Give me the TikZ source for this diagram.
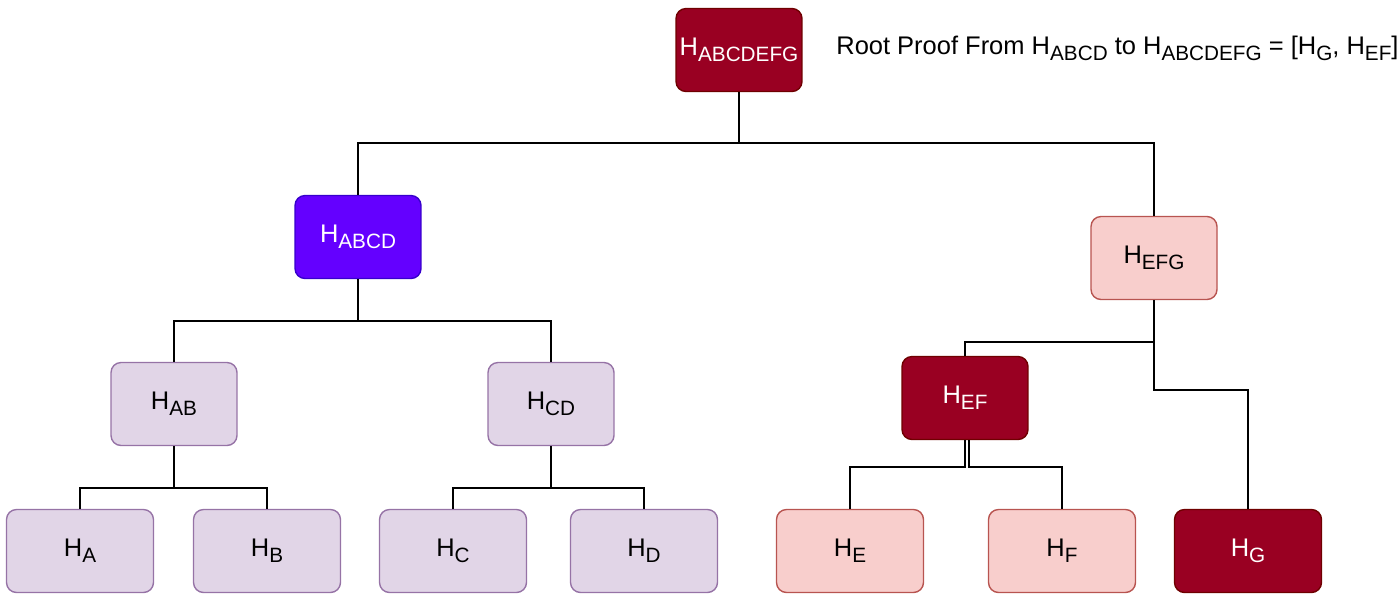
\documentclass[tikz,border=0pt]{standalone}
\usepackage{fontspec}
\setmainfont{Liberation Sans}
\usetikzlibrary{positioning}

\definecolor{rootred}{HTML}{990022}
\definecolor{rootline}{HTML}{6F0000}
\definecolor{violet}{HTML}{6400FF}
\definecolor{violetline}{HTML}{3700CC}
\definecolor{pinkfill}{HTML}{F8CECC}
\definecolor{pinkline}{HTML}{B85450}
\definecolor{lilacfill}{HTML}{E1D5E7}
\definecolor{lilacline}{HTML}{9673A6}

\newcommand{\hs}[1]{H\raisebox{-0.45ex}{\fontsize{11.8}{13}\selectfont #1}}

\tikzset{
  hbox/.style={rounded corners=0.2cm, line width=0.8pt, minimum width=2.52cm,
    minimum height=1.66cm, font=\fontsize{14.5}{16}\selectfont, inner sep=0pt},
  leaf/.style={hbox, minimum width=2.94cm},
  dark/.style={fill=rootred, draw=rootline, text=white},
  blue/.style={fill=violet, draw=violetline, text=white},
  pink/.style={fill=pinkfill, draw=pinkline},
  lilac/.style={fill=lilacfill, draw=lilacline},
  link/.style={line width=1.1pt}
}

\begin{document}
\begin{tikzpicture}[x=0.02cm, y=-0.02cm]
\useasboundingbox (0,0) rectangle (1400,602);
% tree
\node [hbox,dark] (abcdefg) at (739,50) {\hs{ABCDEFG}};
\node [hbox,blue] (abcd) at (358,237) {\hs{ABCD}};
\node [hbox,pink] (efg) at (1154,258) {\hs{EFG}};
\node [hbox,lilac] (ab) at (174,404) {\hs{AB}};
\node [hbox,lilac] (cd) at (551,404) {\hs{CD}};
\node [hbox,dark] (ef) at (965,398) {\hs{EF}};
\node [leaf,lilac] (a) at (80,551) {\hs{A}};
\node [leaf,lilac] (b) at (267,551) {\hs{B}};
\node [leaf,lilac] (c) at (453,551) {\hs{C}};
\node [leaf,lilac] (d) at (644,551) {\hs{D}};
\node [leaf,pink] (e) at (850,551) {\hs{E}};
\node [leaf,pink] (f) at (1062,551) {\hs{F}};
\node [leaf,dark] (g) at (1248,551) {\hs{G}};
\node [anchor=west, font=\fontsize{14.5}{16}\selectfont, inner sep=0pt] (proof) at (836,48)
  {Root Proof From \hs{ABCD} to \hs{ABCDEFG} = [\hs{G}, \hs{EF}]};

% joints
\coordinate (j1) at (739,143);
\coordinate (j2) at (358,321);
\coordinate (j3) at (174,488);
\coordinate (j4) at (551,488);
\coordinate (j5) at (1154,342);
\coordinate (j6) at (1154,390);
\coordinate (j7) at (965,467);
\coordinate (j8) at (969,467);
\coordinate (ef2) at ([xshift=0.08cm]ef.south);

\draw [link] (abcdefg) -- (j1) -| (abcd);
\draw [link] (j1) -| (efg);
\draw [link] (abcd) -- (j2) -| (ab);
\draw [link] (j2) -| (cd);
\draw [link] (ab) -- (j3) -| (a);
\draw [link] (j3) -| (b);
\draw [link] (cd) -- (j4) -| (c);
\draw [link] (j4) -| (d);
\draw [link] (efg) -- (j5) -| (ef);
\draw [link] (j5) -- (j6) -| (g);
\draw [link] (ef) -- (j7) -| (e);
\draw [link] (ef2) -- (j8) -| (f);
\end{tikzpicture}
\end{document}
